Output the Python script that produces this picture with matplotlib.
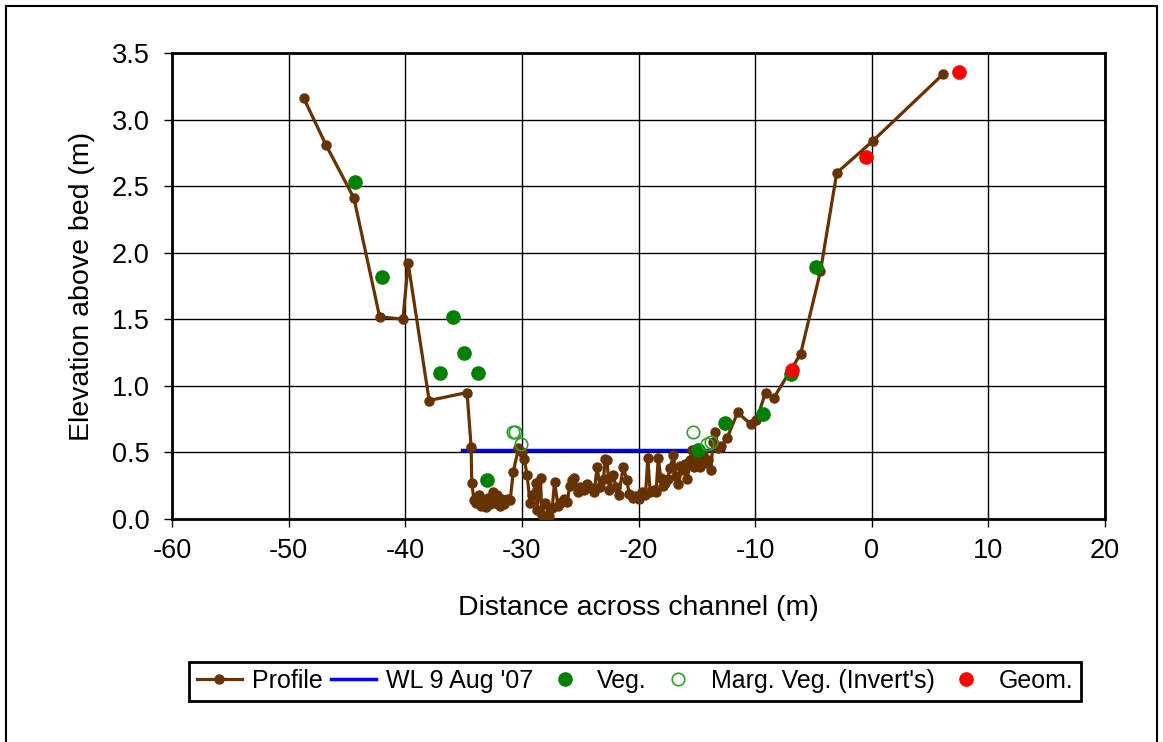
import matplotlib.pyplot as plt
from matplotlib.patches import Rectangle

plt.rcParams['font.family'] = ['Liberation Sans', 'DejaVu Sans']
plt.rcParams['axes.unicode_minus'] = False

# Perfil transversal (distancia m, elevacion m)
profile_x = [-48.7, -46.8, -44.4, -42.2, -40.2, -39.75, -37.95, -34.7, -34.35, -34.3,
             -34.1, -33.9, -33.7, -33.5, -33.3, -33.1, -32.9, -32.7, -32.5, -32.3,
             -32.1, -31.9, -31.7, -31.5, -31.2, -31.0, -30.75, -30.3, -30.0, -29.8,
             -29.55, -29.3, -29.1, -28.8, -28.7, -28.4, -28.3, -28.0, -27.7, -27.4,
             -27.2, -26.9, -26.7, -26.4, -26.1, -25.9, -25.7, -25.5, -25.2, -25.0,
             -24.7, -24.4, -24.1, -23.8, -23.55, -23.3, -23.0, -22.85, -22.7, -22.5,
             -22.2, -21.9, -21.7, -21.3, -21.0, -20.8, -20.5, -20.3, -20.0, -19.7,
             -19.4, -19.2, -19.0, -18.7, -18.5, -18.3, -18.1, -17.9, -17.7, -17.5,
             -17.3, -17.0, -16.8, -16.6, -16.4, -16.2, -16.0, -15.8, -15.6, -15.4,
             -15.2, -15.0, -14.7, -14.5, -14.3, -14.0, -13.8, -13.6, -13.4, -13.2,
             -12.9, -12.4, -11.5, -10.35, -9.9, -9.1, -8.4, -6.1, -4.4, -3.0,
             0.1, 6.1]
profile_y = [3.16, 2.81, 2.41, 1.52, 1.50, 1.92, 0.89, 0.95, 0.54, 0.27,
             0.14, 0.12, 0.18, 0.10, 0.14, 0.09, 0.16, 0.11, 0.20, 0.12,
             0.18, 0.10, 0.15, 0.11, 0.15, 0.14, 0.35, 0.53, 0.50, 0.45,
             0.33, 0.12, 0.18, 0.27, 0.07, 0.31, 0.03, 0.12, 0.02, 0.08,
             0.28, 0.10, 0.12, 0.15, 0.13, 0.25, 0.29, 0.31, 0.20, 0.24,
             0.22, 0.26, 0.23, 0.20, 0.39, 0.24, 0.30, 0.45, 0.44, 0.22,
             0.33, 0.24, 0.18, 0.39, 0.29, 0.19, 0.16, 0.17, 0.15, 0.20,
             0.18, 0.46, 0.20, 0.22, 0.20, 0.46, 0.31, 0.25, 0.27, 0.30,
             0.38, 0.48, 0.32, 0.26, 0.40, 0.37, 0.41, 0.30, 0.44, 0.52,
             0.39, 0.46, 0.39, 0.48, 0.42, 0.44, 0.37, 0.58, 0.65, 0.53,
             0.55, 0.61, 0.80, 0.71, 0.74, 0.95, 0.91, 1.24, 1.86, 2.60,
             2.84, 3.34]

# Nivel de agua 9 Aug '07
wl_x = [-35.1, -12.75]
wl_y = [0.52, 0.52]

# Vegetacion
veg_x = [-44.3, -42.0, -37.0, -35.9, -35.0, -33.75, -33.0, -14.9, -12.6, -9.3, -6.9, -4.8]
veg_y = [2.53, 1.82, 1.10, 1.52, 1.25, 1.10, 0.29, 0.52, 0.72, 0.79, 1.09, 1.89]

# Vegetacion marginal
marg_x = [-30.8, -30.6, -30.1, -15.3, -14.1, -13.8]
marg_y = [0.65, 0.65, 0.56, 0.65, 0.56, 0.58]

# Geomorfologia
geom_x = [-6.85, -0.5, 7.5]
geom_y = [1.12, 2.72, 3.36]

fig = plt.figure(figsize=(11.63, 7.42), dpi=100)
ax = fig.add_axes([172 / 1163, 1 - 519 / 742, 933 / 1163, 466 / 742])

ax.plot(wl_x, wl_y, color="#0000FF", lw=2.5, label="WL 9 Aug '07", zorder=3)
ax.plot(profile_x, profile_y, color="#663300", lw=2.3, marker="o", ms=6.5,
        label="Profile", zorder=4)
ax.plot(veg_x, veg_y, ls="none", marker="o", ms=9.5, color="#008000",
        label="Veg.", zorder=5)
ax.plot(marg_x, marg_y, ls="none", marker="o", ms=9, mfc="none", mec="#2e9e2e",
        mew=1.2, label="Marg. Veg. (Invert's)", zorder=6)
ax.plot(geom_x, geom_y, ls="none", marker="o", ms=9.5, color="#FF0000",
        label="Geom.", zorder=7)

ax.set_xlim(-60, 20)
ax.set_ylim(0, 3.5)
ax.set_xticks(range(-60, 21, 10))
ax.set_yticks([0, 0.5, 1, 1.5, 2, 2.5, 3, 3.5])
ax.set_yticklabels(["0.0", "0.5", "1.0", "1.5", "2.0", "2.5", "3.0", "3.5"])
ax.grid(True, color="black", lw=1)
ax.set_axisbelow(True)
for s in ax.spines.values():
    s.set_linewidth(2)
ax.tick_params(direction="out", length=6, width=1, labelsize=19.5)
ax.tick_params(axis="x", pad=8)
ax.tick_params(axis="y", pad=10)
ax.set_xlabel("Distance across channel (m)", fontsize=20.5, labelpad=22)
ax.set_ylabel("Elevation above bed (m)", fontsize=20.5, labelpad=12)

handles, labels = ax.get_legend_handles_labels()
order = [1, 0, 2, 3, 4]
leg = fig.legend([handles[i] for i in order], [labels[i] for i in order],
                 loc="center", bbox_to_anchor=(635 / 1163, 1 - 681 / 742),
                 ncol=5, fontsize=18, frameon=True, fancybox=False,
                 framealpha=1, edgecolor="black", handlelength=1.8,
                 handletextpad=0.4, columnspacing=0.35, borderpad=0.3,
                 borderaxespad=0)
leg.get_frame().set_linewidth(2)

# Marco exterior
fig.patches.append(Rectangle((6 / 1163, -0.01), 1151 / 1163, 1 - 6 / 742 + 0.01,
                             transform=fig.transFigure, fill=False,
                             edgecolor="black", lw=1.5))

fig.savefig("out.png", dpi=100)
